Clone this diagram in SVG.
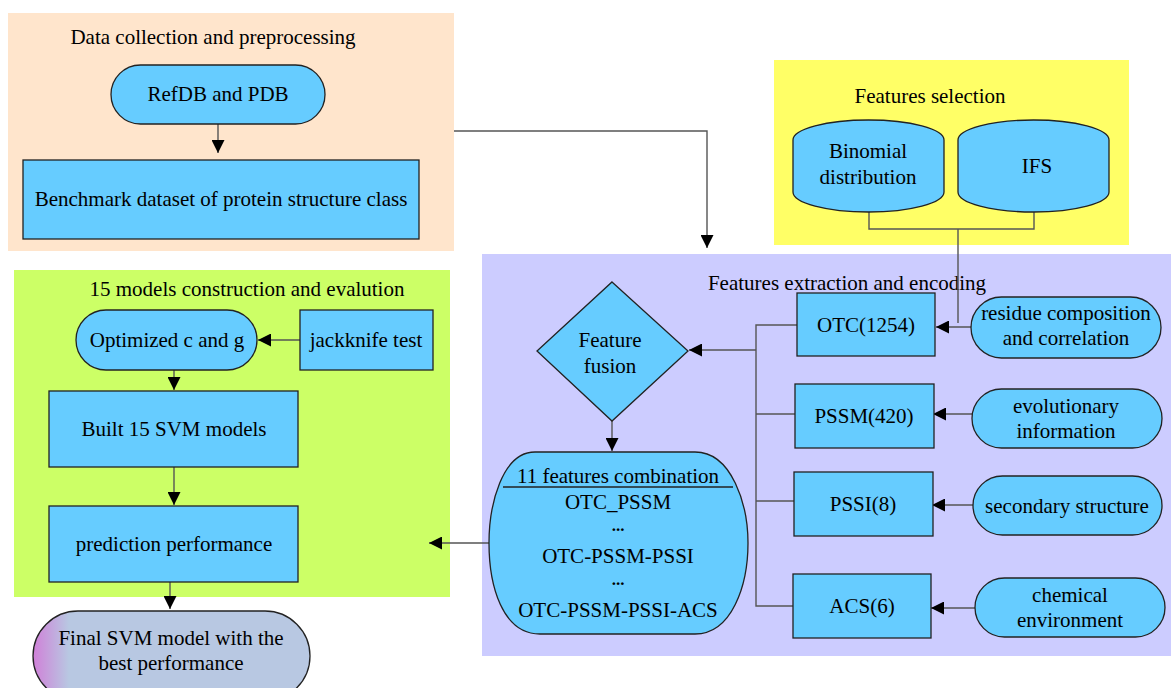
<svg xmlns="http://www.w3.org/2000/svg" width="1171" height="688" viewBox="0 0 1171 688" font-family="'Liberation Serif', 'Times New Roman', serif" font-size="21">
<defs>
<marker id="ah" viewBox="0 0 10 10" refX="10" refY="5" markerWidth="13" markerHeight="13" markerUnits="userSpaceOnUse" orient="auto">
<path d="M0 0 L10 5 L0 10 Z" fill="#000"/>
</marker>
<linearGradient id="fg" x1="0" y1="0" x2="1" y2="0">
<stop offset="0" stop-color="#D080D8"/>
<stop offset="0.13" stop-color="#B8C8E2"/>
<stop offset="1" stop-color="#B8C8E2"/>
</linearGradient>
<style>
text{fill:#000;text-anchor:middle}
.d{font-size:17px;font-weight:bold}
.n{fill:#66CCFF;stroke:#222;stroke-width:1.3}
.c{fill:none;stroke:#555;stroke-width:1.4}
.ca{fill:none;stroke:#555;stroke-width:1.4;marker-end:url(#ah)}
</style>
</defs>
<rect width="1171" height="688" fill="#fff"/>
<g id="panels">
<rect x="8" y="13" width="446" height="238" fill="#FFE5CC"/>
<rect x="774" y="60" width="355" height="185" fill="#FFFF66"/>
<rect x="482" y="254" width="689" height="402" fill="#CCCCFF"/>
<rect x="14" y="270" width="436" height="327" fill="#CCFF66"/>
<text x="213" y="44">Data collection and preprocessing</text>
<text x="930" y="103">Features selection</text>
<text x="847" y="290">Features extraction and encoding</text>
<text x="247" y="296">15 models construction and evalution</text>
</g>
<g id="connectors">
<path class="ca" d="M218 124 V153"/>
<path class="ca" d="M454 131 H707 V248"/>
<path class="c" d="M869 212 V229 H1034 V212 M958 229 V323"/>
<path class="ca" d="M972 327 H936"/>
<path class="ca" d="M972 414 H933"/>
<path class="ca" d="M973 505 H932"/>
<path class="ca" d="M975 608 H931"/>
<path class="c" d="M797 325 H756 V606 H793 M756 414 H795 M756 501 H794"/>
<path class="ca" d="M756 350 H689"/>
<path class="ca" d="M612 421 V451"/>
<path class="ca" d="M489 543 H429"/>
<path class="ca" d="M300 340 H258"/>
<path class="ca" d="M174 363 V390"/>
<path class="ca" d="M174 467 V505"/>
<path class="ca" d="M170 582 V609"/>
</g>
<g id="refdb">
<rect class="n" x="111" y="65" width="214" height="59" rx="29.5"/>
<text x="218" y="101">RefDB and PDB</text>
</g>
<g id="benchmark">
<rect class="n" x="23" y="160" width="396" height="79"/>
<text x="221" y="206">Benchmark dataset of protein structure class</text>
</g>
<g id="binomial">
<path class="n" d="M793 140 A75.5 20 0 0 1 944 140 V192 A75.5 20 0 0 1 793 192 Z"/>
<text x="868" y="158">Binomial</text>
<text x="868" y="184">distribution</text>
</g>
<g id="ifs">
<path class="n" d="M958 140 A75.5 20 0 0 1 1109 140 V192 A75.5 20 0 0 1 958 192 Z"/>
<text x="1037" y="173">IFS</text>
</g>
<g id="otc">
<rect class="n" x="797" y="293" width="138" height="63"/>
<text x="866" y="332">OTC(1254)</text>
</g>
<g id="residue">
<rect class="n" x="971" y="297" width="190" height="61" rx="30.5"/>
<text x="1066" y="320">residue composition</text>
<text x="1066" y="345">and correlation</text>
</g>
<g id="pssm">
<rect class="n" x="795" y="384" width="139" height="64"/>
<text x="864" y="423">PSSM(420)</text>
</g>
<g id="evolutionary">
<rect class="n" x="972" y="389" width="190" height="59" rx="29.5"/>
<text x="1066" y="413">evolutionary</text>
<text x="1066" y="438">information</text>
</g>
<g id="pssi">
<rect class="n" x="794" y="472" width="139" height="64"/>
<text x="863" y="511">PSSI(8)</text>
</g>
<g id="secondary">
<rect class="n" x="973" y="476" width="189" height="59" rx="29.5"/>
<text x="1067" y="513">secondary structure</text>
</g>
<g id="acs">
<rect class="n" x="793" y="574" width="138" height="64"/>
<text x="862" y="613">ACS(6)</text>
</g>
<g id="chemical">
<rect class="n" x="975" y="578" width="190" height="59" rx="29.5"/>
<text x="1070" y="602">chemical</text>
<text x="1070" y="627">environment</text>
</g>
<g id="fusion">
<path class="n" d="M612 282 L688 351 L612 421 L537 351 Z"/>
<text x="610" y="347">Feature</text>
<text x="610" y="373">fusion</text>
</g>
<g id="combination">
<path class="n" d="M535 452 H695 C732 452 748 505 748 543 C748 585 732 634 695 634 H540 C502 634 489 585 489 543 C489 505 502 452 535 452 Z"/>
<path fill="none" stroke="#222" stroke-width="1.3" d="M503 487 H733"/>
<text x="618" y="483">11 features combination</text>
<text x="618" y="509">OTC_PSSM</text>
<text class="d" x="618" y="531">...</text>
<text x="618" y="563">OTC-PSSM-PSSI</text>
<text class="d" x="618" y="585">...</text>
<text x="618" y="617">OTC-PSSM-PSSI-ACS</text>
</g>
<g id="optimized">
<rect class="n" x="76" y="310" width="181" height="60" rx="30"/>
<text x="167" y="347">Optimized c and g</text>
</g>
<g id="jackknife">
<rect class="n" x="300" y="310" width="133" height="60"/>
<text x="366" y="347">jackknife test</text>
</g>
<g id="built">
<rect class="n" x="49" y="391" width="249" height="76"/>
<text x="174" y="436">Built 15 SVM models</text>
</g>
<g id="prediction">
<rect class="n" x="49" y="506" width="249" height="76"/>
<text x="174" y="551">prediction performance</text>
</g>
<g id="final">
<rect x="33" y="611" width="277" height="90" rx="45" fill="url(#fg)" stroke="#222" stroke-width="1.3"/>
<text x="171" y="645">Final SVM model with the</text>
<text x="171" y="670">best performance</text>
</g>
</svg>
